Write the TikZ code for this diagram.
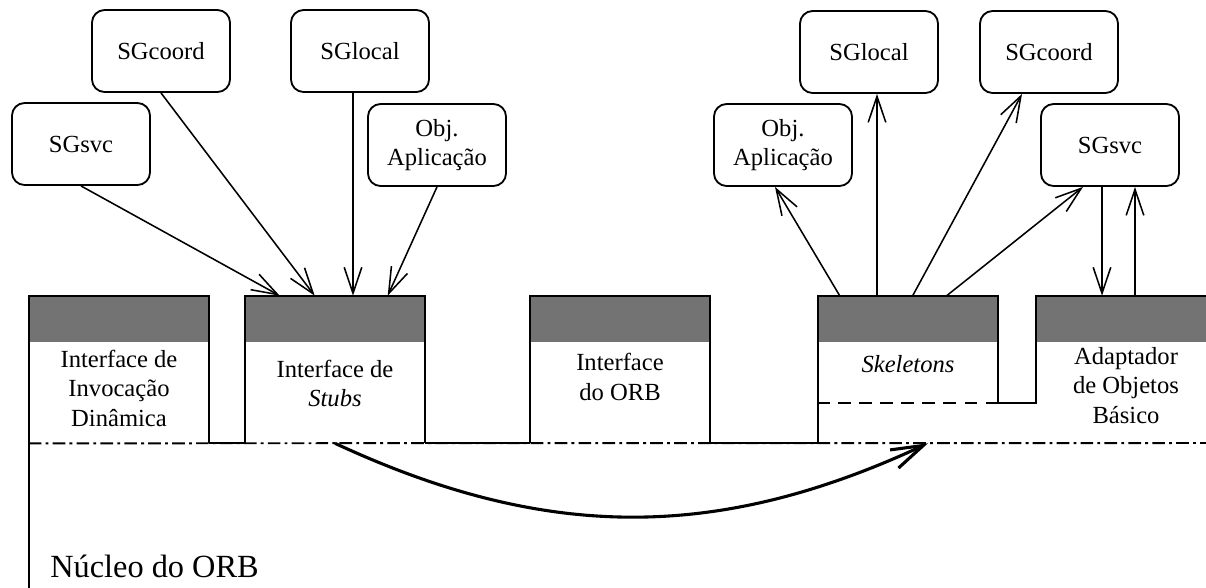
\documentclass[tikz,border=0pt]{standalone}
\usepackage{fontspec}
\setmainfont{Liberation Serif}
\usetikzlibrary{arrows.meta,positioning,calc}

\begin{document}
\begin{tikzpicture}[
  x=0.025cm, y=-0.025cm,
  >={Straight Barb[length=6.5mm,width=4.4mm]},
  every node/.style={font=\fontsize{17.5}{21}\selectfont},
  objbox/.style={draw, rounded corners=9pt, line width=1.3pt, minimum width=3.45cm,
    minimum height=2.05cm, align=center, inner sep=2pt},
  ifbox/.style={minimum width=4.5cm, minimum height=3.675cm, inner sep=0pt},
  iflabel/.style={align=center, inner sep=0pt},
  hatch/.style={fill=black!55},
  wall/.style={line width=1.6pt},
  arr/.style={->, line width=1.1pt},
  base/.style={line width=1.4pt, dash pattern=on 9pt off 3pt on 2pt off 3pt},
  cut/.style={line width=1.4pt, dash pattern=on 9pt off 6pt},
]
\clip (0,0) rectangle (1206,587);

% Objetos de cima, lado dos stubs
\node[objbox] (lsvc) at (81,144) {SGsvc};
\node[objbox] (lcoord) at (161,51) {SGcoord};
\node[objbox] (llocal) at (360,51) {SGlocal};
\node[objbox] (lobj) at (437,145) {Obj.\\Aplicação};

% Objetos de cima, lado dos skeletons
\node[objbox] (robj) at (783,145) {Obj.\\Aplicação};
\node[objbox] (rlocal) at (869,52) {SGlocal};
\node[objbox] (rcoord) at (1049,52) {SGcoord};
\node[objbox] (rsvc) at (1110,145) {SGsvc};

% Interfaces do ORB
\node[ifbox] (dii) at (119,369.5) {};
\node[ifbox] (stubs) at (335,369.5) {};
\node[ifbox] (orbif) at (620,369.5) {};
\node[ifbox] (skel) at (908,369.5) {};
\node[ifbox] (adapt) at (1126,369.5) {};

\foreach \b in {dii,stubs,orbif,skel,adapt}
  \fill[hatch] (\b.north west) rectangle ($(\b.north east)+(0,46)$);

\draw[wall] (dii.south west) |- (dii.north east) -- (dii.south east);
\draw[wall] (stubs.south west) |- (stubs.north east) -- (stubs.south east);
\draw[wall] (orbif.south west) |- (orbif.north east) -- (orbif.south east);
\coordinate (skelcut) at ($(skel.north east)+(0,107)$);
\draw[wall] (skel.south west) |- (skel.north east) -- (skelcut) -| (adapt.north west)
  -- (adapt.north east);
\draw[cut] (skelcut) -- (skelcut -| skel.west);

\node[iflabel, below=1.35cm of dii.north] {Interface de\\Invocação\\Dinâmica};
\node[iflabel, below=1.6cm of stubs.north] {Interface de\\\textit{Stubs}};
\node[iflabel, below=1.43cm of orbif.north] {Interface\\do ORB};
\node[iflabel, below=1.48cm of skel.north] {\textit{Skeletons}};
\node[iflabel, below=1.28cm of adapt.north] {Adaptador\\de Objetos\\Básico};

% Nucleo
\draw[base] (dii.south west) -- (1206,443);
\draw[wall] (dii.south east) -- (stubs.south west);
\draw[wall] (stubs.south east) -- (orbif.south west);
\draw[wall] (orbif.south east) -- (skel.south west);
\draw[wall] (dii.south west) -- ++(0,150);
\node[font=\fontsize{23}{27}\selectfont, anchor=base west, inner sep=0pt] (core) at (50,577)
  {Núcleo do ORB};

% Setas
\draw[arr] (lsvc.south) -- ($(stubs.north west)+(35,0)$);
\draw[arr] (lcoord.south) -- ($(stubs.north west)+(70,0)$);
\coordinate (lloc) at ($(llocal.south)+(-7,0)$);
\draw[arr] (lloc) -- (lloc |- stubs.north);
\draw[arr] (lobj.south) -- ($(stubs.north west)+(143,0)$);

\draw[arr] ($(skel.north west)+(22,0)$) -- ($(robj.south)+(-8,0)$);
\coordinate (rloc) at ($(rlocal.south)+(8,0)$);
\draw[arr] (rloc |- skel.north) -- (rloc);
\draw[arr] ($(skel.north west)+(95,0)$) -- ($(rcoord.south)+(-27,0)$);
\draw[arr] ($(skel.north west)+(129,0)$) -- ($(rsvc.south)+(-27,0)$);
\coordinate (svcdn) at ($(rsvc.south)+(-8,0)$);
\coordinate (svcup) at ($(rsvc.south)+(25,0)$);
\draw[arr] (svcdn) -- (svcdn |- adapt.north);
\draw[arr] (svcup |- adapt.north) -- (svcup);

\coordinate (skelin) at ($(skel.south)+(20,0)$);
\draw[line width=2.2pt, -{Straight Barb[length=8mm,width=5mm]}]
  (stubs.south) .. controls ($(stubs.south)+(211,98)$) and ($(skelin)+(-211,98)$) .. (skelin);
\end{tikzpicture}
\end{document}
